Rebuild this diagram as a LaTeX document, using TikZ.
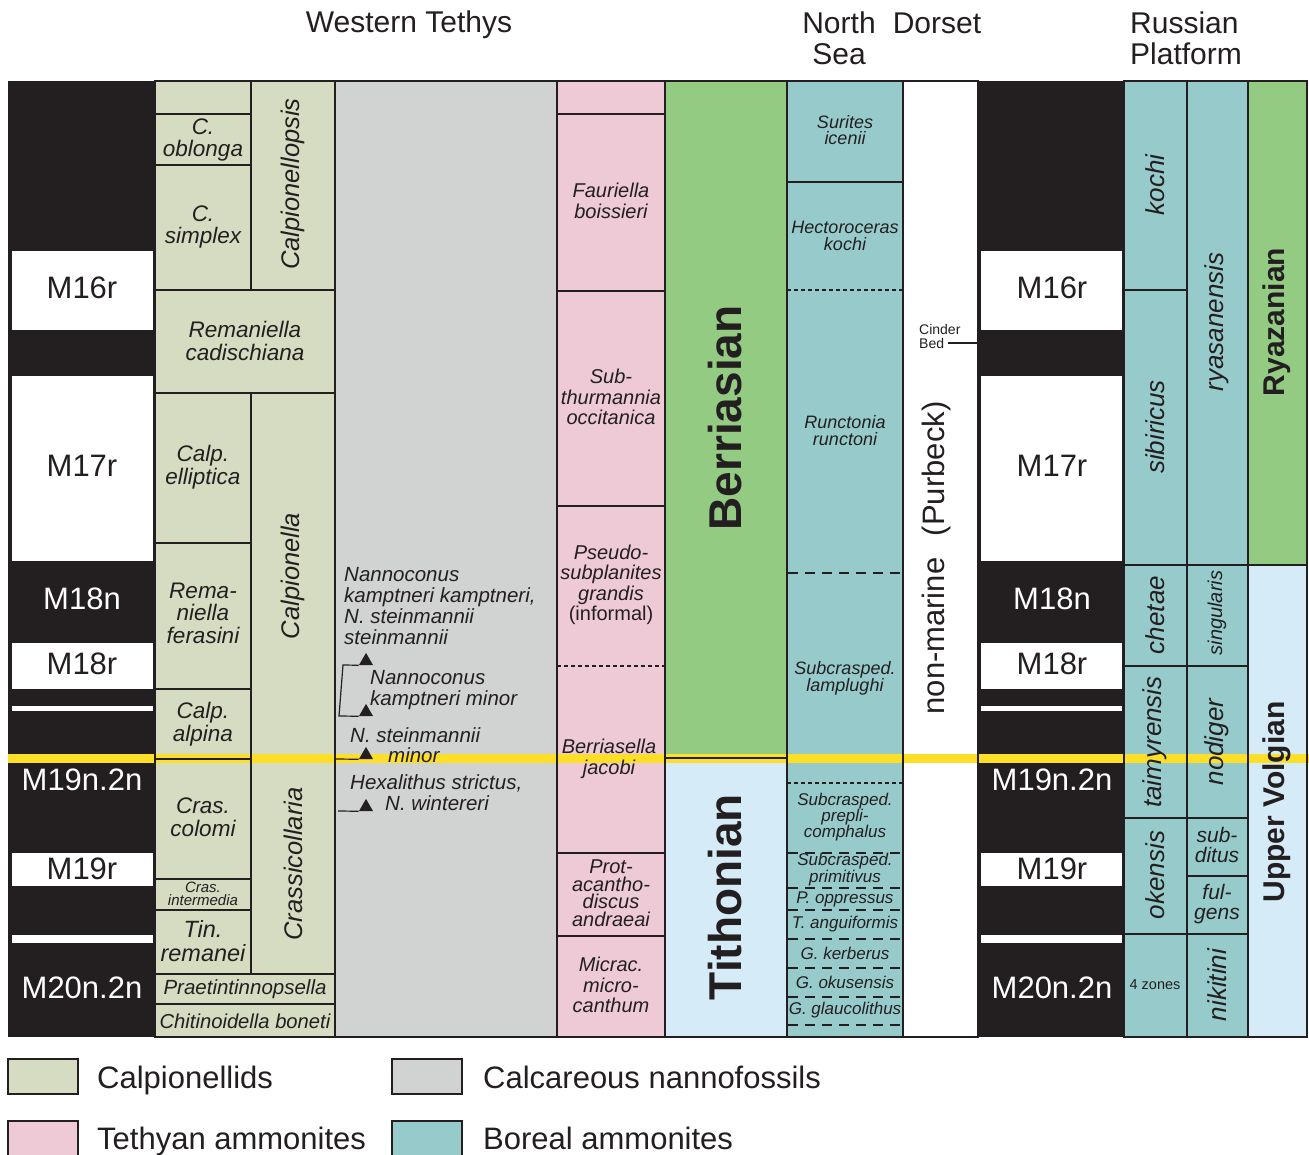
\documentclass[tikz,border=0pt]{standalone}
\usepackage{fontspec}
\setmainfont{Liberation Sans}
\usetikzlibrary{shapes.geometric}
\definecolor{lk}{HTML}{231F20}
\definecolor{calpc}{HTML}{D5DCC1}
\definecolor{nannoc}{HTML}{D1D3D2}
\definecolor{tethc}{HTML}{EDCAD6}
\definecolor{borc}{HTML}{97CBCB}
\definecolor{grnc}{HTML}{93CB83}
\definecolor{lbluec}{HTML}{D5EBF8}
\definecolor{yelc}{HTML}{FDDF28}
\tikzset{
 lbl/.style={inner sep=0pt, align=center, text=lk},
 magd/.style={lbl, font=\fontsize{31}{31}\selectfont},
 magw/.style={lbl, text=white, font=\fontsize{31}{31}\selectfont},
 zonetxt/.style={lbl, font=\fontsize{22.5}{22.5}\selectfont\itshape},
 genustxt/.style={lbl, rotate=90, font=\fontsize{25.5}{25.5}\selectfont\itshape},
 tethtxt/.style={lbl, font=\fontsize{20}{20.5}\selectfont\itshape},
 nannotxt/.style={lbl, align=left, anchor=west, font=\fontsize{20.5}{20.7}\selectfont\itshape},
 nstxt/.style={lbl, font=\fontsize{18}{17}\selectfont\itshape},
 nsbtxt/.style={lbl, font=\fontsize{17}{16}\selectfont\itshape},
 stagetxt/.style={lbl, rotate=90, font=\fontsize{46}{46}\selectfont\bfseries},
 rustxt/.style={lbl, rotate=90, font=\fontsize{26}{26}\selectfont\itshape},
 russmtxt/.style={lbl, font=\fontsize{21}{20}\selectfont\itshape},
 rstagetxt/.style={lbl, rotate=90, font=\fontsize{30}{30}\selectfont\bfseries},
 headtxt/.style={lbl, font=\fontsize{30}{31}\selectfont},
 legtxt/.style={lbl, anchor=base west, font=\fontsize{31}{31}\selectfont},
 tri/.style={regular polygon, regular polygon sides=3, minimum size=16.2pt, inner sep=0pt, fill=lk},
 cellline/.style={draw=lk, line width=2pt},
 shortdash/.style={draw=lk, line width=2pt, dash pattern=on 4pt off 3pt},
 longdash/.style={draw=lk, line width=2pt, dash pattern=on 10pt off 7pt},
 thinline/.style={draw=lk, line width=1.2pt},
}
\begin{document}
\begin{tikzpicture}[x=1pt, y=-1pt]
\useasboundingbox (0,0) rectangle (1309,1155);
\fill[white] (0,0) rectangle (1309,1155);
% ---- fills
\fill[lk] (8,81) rectangle (155,1037);
\foreach \a/\b in {251/330,376/561,643/689,706/711,853/886,935/943}
  \fill[white] (12,\a) rectangle (153,\b);
\fill[lk] (978,81) rectangle (1124,1037);
\foreach \a/\b in {251/330,376/561,643/689,706/711,853/886,935/943}
  \fill[white] (981,\a) rectangle (1122,\b);
\fill[calpc] (155,81) rectangle (335,1037);
\fill[nannoc] (335,81) rectangle (557,1037);
\fill[tethc] (557,81) rectangle (665,1037);
\fill[grnc] (665,81) rectangle (787,758);
\fill[lbluec] (665,758) rectangle (787,1037);
\fill[borc] (787,81) rectangle (903,1037);
\fill[white] (903,81) rectangle (978,1037);
\fill[borc] (1124,81) rectangle (1248,1037);
\fill[grnc] (1248,81) rectangle (1307,565);
\fill[lbluec] (1248,565) rectangle (1307,1037);
% ---- boundary
\fill[yelc] (8,754) rectangle (1309,763);
% ---- cell outlines
\begin{scope}[cellline]
\foreach \a/\b in {81/114,114/165,165/290,393/543,543/689,689/759,759/879,879/910,910/974}
  \draw (155,\a) rectangle (251,\b);
\foreach \a/\b in {290/393,974/1004,1004/1037}
  \draw (155,\a) rectangle (335,\b);
\draw (251,81) rectangle (335,290);
\draw (251,393) rectangle (335,974);
\draw (335,81) rectangle (557,1037);
\foreach \a/\b in {81/114,114/291,291/506,506/853,853/936,936/1037}
  \draw (557,\a) rectangle (665,\b);
\draw (665,81) rectangle (787,758);
\draw (665,758) rectangle (787,1037);
\draw (787,81) rectangle (903,182);
\draw (787,182) rectangle (903,1037);
\draw (903,81) rectangle (978,1037);
\foreach \a/\b in {81/290,290/565,565/666,666/818,818/934,934/1037}
  \draw (1124,\a) rectangle (1187,\b);
\foreach \a/\b in {81/565,565/666,666/818,818/876,876/934,934/1037}
  \draw (1187,\a) rectangle (1248,\b);
\draw (1248,81) rectangle (1307,565);
\draw (1248,565) rectangle (1307,1037);
\end{scope}
\draw[shortdash] (557,666) -- (665,666);
\draw[shortdash] (787,290) -- (903,290);
\draw[shortdash] (787,783) -- (903,783);
\foreach \y in {573,853,888,910,939,968,997,1025}
  \draw[longdash] (788,\y) -- (903,\y);
% ---- headers
\node[headtxt] (hwt) at (409,25) {Western Tethys};
\node[headtxt] (hns) at (839,38) {North\\Sea};
\node[headtxt] (hdo) at (937,23) {Dorset};
\node[headtxt, align=left, anchor=west] (hrp) at (1130,38) {Russian\\Platform};
% ---- magnetic labels
\foreach \side/\x in {l/82,r/1052}{
 \node[magd] (m16r\side) at (\x,288) {M16r};
 \node[magd] (m17r\side) at (\x,466) {M17r};
 \node[magw] (m18n\side) at (\x,599) {M18n};
 \node[magd] (m18r\side) at (\x,664) {M18r};
 \node[magw] (m19n\side) at (\x,780) {M19n.2n};
 \node[magd] (m19r\side) at (\x,869) {M19r};
 \node[magw] (m20n\side) at (\x,988) {M20n.2n};
}
% ---- calpionellids
\node[zonetxt] (zobl) at (203,140) {C.\\oblonga};
\node[zonetxt] (zsim) at (203,227) {C.\\simplex};
\node[zonetxt] (zcad) at (245,341) {Remaniella\\cadischiana};
\node[zonetxt] (zell) at (203,467) {Calp.\\elliptica};
\node[zonetxt] (zfer) at (203,613) {Rema-\\niella\\ferasini};
\node[zonetxt] (zalp) at (203,724) {Calp.\\alpina};
\node[zonetxt] (zcol) at (203,817) {Cras.\\colomi};
\node[lbl, font=\fontsize{15}{13}\selectfont\itshape] (zint) at (203,894) {Cras.\\intermedia};
\node[lbl, font=\fontsize{23.5}{24}\selectfont\itshape] (zrem) at (203,941) {Tin.\\remanei};
\node[lbl, font=\fontsize{20.5}{20.5}\selectfont\itshape] (zpra) at (245,989) {Praetintinnopsella};
\node[lbl, font=\fontsize{20.2}{20.2}\selectfont\itshape] (zbon) at (245,1021) {Chitinoidella boneti};
\node[genustxt] (gcps) at (293,184) {Calpionellopsis};
\node[genustxt] (gcal) at (293,576) {Calpionella};
\node[genustxt] (gcra) at (293,864) {Crassicollaria};
% ---- nannofossils
\node[nannotxt] (n1) at (344,606) {Nannoconus\\kamptneri kamptneri,\\N. steinmannii\\steinmannii};
\node[nannotxt] (n2) at (370,690) {Nannoconus\\kamptneri minor};
\node[nannotxt] (n3a) at (350,735) {N. steinmannii};
\node[nannotxt] (n3b) at (388,755) {minor};
\node[nannotxt] (n4a) at (350,783) {Hexalithus strictus,};
\node[nannotxt] (n4b) at (385,803) {N. wintereri};
\node[tri] (t1) at (366,661) {};
\node[tri] (t2) at (366,712) {};
\node[tri] (t3) at (366,755) {};
\node[tri] (t4) at (366,807) {};
\coordinate (b1) at (343,665);
\coordinate (b2) at (339,716);
\coordinate (c3) at (335,759);
\coordinate (c4) at (338,811);
\draw[thinline] (t1.corner 2) -- (b1) -- (b2) -- (t2.corner 2);
\draw[thinline] (c3) -- (t3.corner 2);
\draw[thinline] (c4) -- (t4.corner 2);
% ---- tethyan ammonites
\node[tethtxt] (afau) at (611,201) {Fauriella\\boissieri};
\node[tethtxt] (asub) at (611,397) {Sub-\\thurmannia\\occitanica};
\node[tethtxt] (apse) at (611,585) {Pseudo-\\subplanites\\grandis\\{\upshape(informal)}};
\node[tethtxt] (ajac) at (609,759) {Berriasella\\jacobi};
\node[lbl, font=\fontsize{20}{17.5}\selectfont\itshape] (apro) at (611,893) {Prot-\\acantho-\\discus\\andraeai};
\node[tethtxt] (amic) at (611,985) {Micrac.\\micro-\\canthum};
% ---- stages
\node[stagetxt] (sber) at (725,418) {Berriasian};
\node[stagetxt] (stit) at (725,897) {Tithonian};
% ---- North Sea
\node[nstxt, font=\fontsize{18}{16}\selectfont\itshape] (bsur) at (845,130) {Surites\\icenii};
\node[nstxt] (bhec) at (845,236) {Hectoroceras\\kochi};
\node[nstxt] (brun) at (845,431) {Runctonia\\runctoni};
\node[nstxt] (blam) at (845,678) {Subcrasped.\\lamplughi};
\node[nsbtxt] (bpre) at (845,817) {Subcrasped.\\prepli-\\comphalus};
\node[nsbtxt, font=\fontsize{17}{14}\selectfont\itshape] (bpri) at (845,870) {Subcrasped.\\primitivus};
\node[nsbtxt] (bopp) at (845,899) {P. oppressus};
\node[nsbtxt] (bang) at (845,924) {T. anguiformis};
\node[nsbtxt] (bker) at (845,953) {G. kerberus};
\node[nsbtxt] (boku) at (845,982) {G. okusensis};
\node[nsbtxt] (bgla) at (845,1010) {G. glaucolithus};
% ---- Dorset
\node[lbl, rotate=90, font=\fontsize{31}{31}\selectfont] (dnm) at (936,558) {non-marine\hspace{0.7em}(Purbeck)};
\node[lbl, anchor=west, font=\fontsize{14}{14}\selectfont] (dcin) at (919,329) {Cinder};
\node[lbl, anchor=west, font=\fontsize{14}{14}\selectfont] (dbed) at (919,343) {Bed};
\coordinate (cb) at (979,343);
\draw[thinline] ([xshift=4pt]dbed.east) -- (cb);
% ---- Russian platform
\node[rustxt] (rkoc) at (1155,185) {kochi};
\node[rustxt] (rsib) at (1155,427) {sibiricus};
\node[rustxt] (rche) at (1155,615) {chetae};
\node[rustxt] (rtai) at (1155,742) {taimyrensis};
\node[rustxt] (roke) at (1155,875) {okensis};
\node[lbl, font=\fontsize{14.5}{14.5}\selectfont] (r4z) at (1155,985) {4 zones};
\node[rustxt] (rrya) at (1217,322) {ryasanensis};
\node[rustxt, font=\fontsize{20}{20}\selectfont\itshape] (rsin) at (1217,613) {singularis};
\node[rustxt] (rnod) at (1217,742) {nodiger};
\node[russmtxt] (rsub) at (1217,845) {sub-\\ditus};
\node[russmtxt] (rful) at (1217,904) {ful-\\gens};
\node[rustxt] (rnik) at (1217,985) {nikitini};
\node[rstagetxt] (rrz) at (1277,322) {Ryazanian};
\node[rstagetxt] (ruv) at (1277,802) {Upper Volgian};
% ---- legend
\filldraw[fill=calpc, cellline] (8,1059) rectangle (78,1094);
\filldraw[fill=nannoc, cellline] (392,1059) rectangle (462,1094);
\filldraw[fill=tethc, cellline] (8,1121) rectangle (78,1160);
\filldraw[fill=borc, cellline] (392,1121) rectangle (462,1160);
\node[legtxt] (lcal) at (97,1088) {Calpionellids};
\node[legtxt] (lnan) at (483,1088) {Calcareous nannofossils};
\node[legtxt] (ltet) at (97,1149) {Tethyan ammonites};
\node[legtxt] (lbor) at (483,1149) {Boreal ammonites};
\end{tikzpicture}
\end{document}
